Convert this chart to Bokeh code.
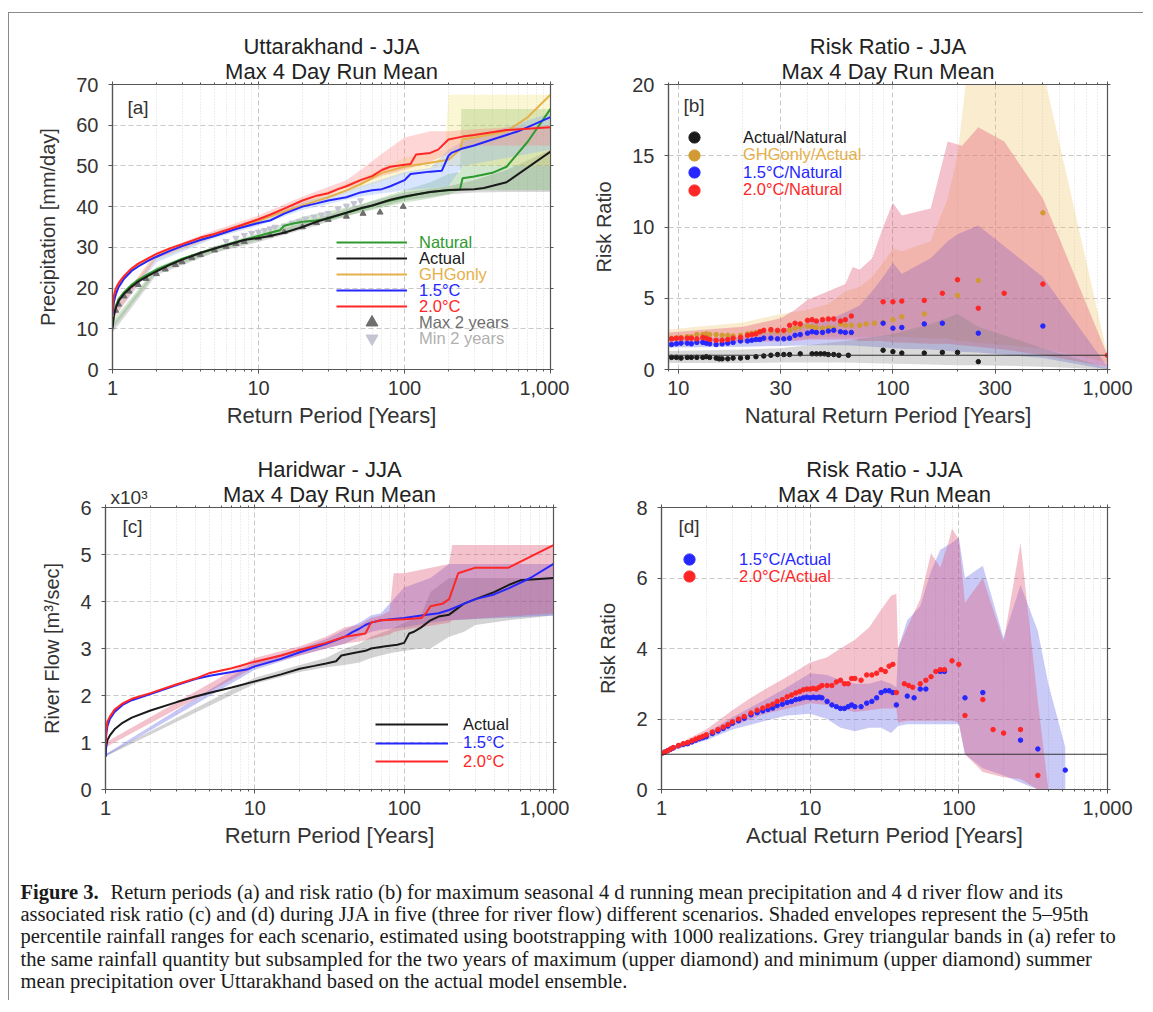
from bokeh.plotting import figure
from bokeh.models import (Range1d, FixedTicker, LogAxis, LinearAxis, NumeralTickFormatter,
                          CustomJSTickFormatter, Legend, LegendItem, Label, Span, Title)
from bokeh.layouts import column, row
from bokeh.embed import file_html
from bokeh.resources import INLINE

FONT = "Liberation Sans"

# ---------------- Panel (a) data: return levels (mm/day) ----------------
A_nat_x = [1, 1.02, 1.05, 1.1, 1.2, 1.35, 1.5, 1.75, 2, 2.5, 3, 4, 5, 6, 7, 8, 10, 12, 14, 15, 17, 20, 25, 30, 35, 40, 50, 60, 70, 80, 100, 120, 150, 200, 240, 250, 300, 400, 500, 700, 1000]
A_nat_y = [10.5, 13.5, 15.5, 17.3, 19.0, 20.8, 22.0, 23.4, 24.5, 26.0, 27.2, 28.7, 29.7, 30.6, 31.3, 31.9, 32.8, 33.6, 34.2, 35.3, 35.8, 36.3, 36.6, 37.0, 37.8, 38.5, 39.5, 40.2, 41.0, 41.5, 42.3, 43.0, 43.6, 44.0, 44.2, 47.0, 47.4, 48.3, 49.8, 56.0, 64.0]
A_act_x = [1, 1.02, 1.05, 1.1, 1.2, 1.35, 1.5, 1.75, 2, 2.5, 3, 4, 5, 6, 7, 8, 10, 12, 15, 20, 25, 30, 40, 50, 60, 70, 80, 100, 150, 200, 300, 350, 500, 1000]
A_act_y = [10.0, 13.0, 15.0, 16.8, 18.6, 20.3, 21.6, 23.0, 24.1, 25.8, 27.0, 28.6, 29.7, 30.5, 31.2, 31.8, 32.3, 32.8, 33.6, 35.0, 36.3, 37.2, 38.5, 39.6, 40.3, 41.0, 41.7, 42.5, 43.6, 44.1, 44.3, 44.6, 46.0, 53.5]
A_ghg_x = [1, 1.02, 1.05, 1.1, 1.2, 1.35, 1.5, 1.75, 2, 2.5, 3, 4, 5, 7, 10, 15, 20, 30, 40, 50, 70, 100, 150, 200, 240, 250, 300, 400, 500, 700, 1000]
A_ghg_y = [13.0, 16.5, 18.5, 20.5, 22.5, 24.3, 25.5, 26.8, 27.8, 29.3, 30.5, 32.0, 33.0, 34.8, 36.5, 38.8, 40.3, 42.3, 44.0, 45.5, 48.3, 49.8, 50.8, 51.5, 54.0, 56.5, 57.0, 57.8, 58.5, 62.0, 67.5]
A_15_x = [1, 1.02, 1.05, 1.1, 1.2, 1.35, 1.5, 1.75, 2, 2.5, 3, 4, 5, 7, 10, 12, 15, 20, 25, 30, 40, 50, 60, 70, 80, 100, 110, 150, 180, 200, 210, 250, 300, 400, 600, 1000]
A_15_y = [13.5, 16.5, 18.3, 20.2, 22.3, 24.2, 25.3, 26.7, 27.7, 29.2, 30.3, 31.8, 32.8, 34.5, 36.0, 36.6, 38.3, 40.0, 40.8, 41.5, 42.3, 43.5, 44.0, 44.3, 45.0, 46.5, 48.0, 48.6, 48.8, 52.5, 53.2, 54.3, 55.0, 56.5, 58.5, 62.0]
A_20_x = [1, 1.02, 1.05, 1.1, 1.2, 1.35, 1.5, 1.75, 2, 2.5, 3, 4, 5, 7, 10, 12, 15, 20, 25, 30, 35, 40, 50, 60, 70, 80, 100, 110, 120, 150, 170, 200, 250, 300, 500, 1000]
A_20_y = [14.0, 18.0, 19.8, 21.2, 23.0, 24.8, 26.0, 27.3, 28.4, 29.8, 30.8, 32.4, 33.3, 35.0, 36.9, 38.0, 39.5, 41.5, 42.7, 43.3, 44.3, 45.0, 46.5, 47.5, 49.0, 49.8, 50.3, 50.5, 52.8, 53.2, 54.0, 56.5, 57.2, 57.6, 58.8, 59.5]
A_max_x = [1.05, 1.1, 1.2, 1.3, 1.5, 1.7, 2, 2.3, 2.7, 3, 3.5, 4, 5, 6, 7, 8, 10, 12, 15, 20, 25, 30, 40, 52, 68, 98]
A_max_y = [14.5, 16.0, 18.0, 19.2, 20.8, 22.3, 23.5, 24.6, 25.7, 26.4, 27.4, 28.2, 29.3, 30.2, 30.9, 31.4, 32.3, 33.0, 33.8, 35.0, 36.0, 36.8, 37.6, 38.3, 38.6, 40.0]
A_min_x = [6, 7, 8, 9, 10, 11, 12, 13, 15, 17, 19, 21, 24, 27, 30, 35, 40, 45, 50]
A_min_y = [31.5, 32.3, 33.0, 33.5, 33.8, 34.2, 34.6, 35.0, 35.3, 36.0, 36.4, 37.0, 37.5, 38.0, 38.4, 39.5, 40.2, 40.8, 41.5]
# 5-95% envelopes
A_band_act_x = [1, 2, 5, 10, 20, 50, 100, 200, 300, 500, 1000]
A_band_act_lo = [9, 23.2, 28.7, 31.3, 34.3, 38.7, 41.5, 43, 43.5, 43.6, 43.6]
A_band_act_hi = [11, 24.8, 30.3, 32.8, 36, 40.5, 43.5, 45, 46.5, 49, 54]
A_band_nat_x = [1, 2, 5, 10, 20, 50, 100, 150, 200, 240, 245, 1000]
A_band_nat_lo = [10, 23.8, 28.8, 31.8, 35, 38.5, 41, 42, 43, 44, 44, 44]
A_band_nat_hi = [12, 25.2, 30.2, 33.5, 37.5, 40.5, 44, 46, 48, 48.5, 64, 64]
A_band_ghg_x = [1, 2, 5, 10, 20, 50, 100, 190, 200, 1000]
A_band_ghg_lo = [13, 26.8, 32.3, 35.8, 39.8, 44.5, 48, 50, 50, 50]
A_band_ghg_hi = [15, 28.3, 33.8, 37.3, 41.5, 47, 52, 54, 67.5, 67.5]
A_band_15_x = [1, 2, 5, 10, 20, 50, 100, 150, 200, 250, 1000]
A_band_15_lo = [12.5, 26.3, 32.3, 35.3, 39.2, 42.5, 44, 44.5, 45, 50, 54]
A_band_15_hi = [14.5, 27.8, 33.8, 36.8, 41, 45, 48.5, 49.5, 54, 56, 63]
A_band_20_x = [1, 2, 5, 10, 20, 40, 50, 70, 100, 150, 200, 300, 1000]
A_band_20_lo = [12, 27.3, 32.6, 36.3, 40.6, 44.5, 45.5, 47.5, 49, 51, 53, 55, 55]
A_band_20_hi = [14.5, 28.8, 34.2, 37.8, 42.5, 46.5, 49, 53, 57, 58.5, 58.5, 59, 60]

# ---------------- Panel (b) data: risk ratios vs natural return period ----------------
B_act_x = [9.3, 9.8, 10.3, 11, 11.5, 12.2, 13, 13.5, 14, 15, 15.5, 16, 17, 18, 19.5, 21, 23, 25, 27, 29, 31, 33, 37, 42, 44, 46, 48, 50, 53, 56, 62, 90, 100, 110, 140, 170, 200, 250]
B_act_y = [0.85, 0.85, 0.8, 0.85, 0.85, 0.85, 0.85, 0.9, 0.85, 0.8, 0.75, 0.75, 0.75, 0.8, 0.8, 0.85, 0.9, 0.95, 1.0, 1.05, 1.05, 1.05, 1.1, 1.1, 1.1, 1.1, 1.1, 1.05, 1.05, 1.0, 1.0, 1.35, 1.25, 1.15, 1.15, 1.2, 1.2, 0.55]
B_ghg_x = [9.3, 9.8, 10.3, 11, 11.5, 12.2, 13, 13.5, 14, 15, 16, 17, 18, 19.5, 21, 22, 23, 24, 25, 27, 29, 31, 33, 35, 37, 40, 42, 44, 47, 50, 53, 57, 60, 64, 70, 75, 82, 90, 100, 110, 140, 200, 250, 500]
B_ghg_y = [2.2, 2.2, 2.25, 2.3, 2.3, 2.45, 2.45, 2.5, 2.45, 2.45, 2.4, 2.4, 2.35, 2.4, 2.5, 2.55, 2.6, 2.65, 2.7, 2.7, 2.65, 2.7, 2.75, 2.9, 3.0, 3.05, 3.0, 2.95, 2.9, 2.95, 2.9, 3.2, 3.1, 3.1, 3.1, 3.2, 3.25, 3.3, 3.5, 3.7, 3.9, 5.2, 6.25, 11.0]
B_15_x = [9.3, 9.8, 10.3, 11, 11.5, 12.2, 13, 13.5, 14, 15, 16, 17, 18, 19.5, 21, 22, 23, 24, 25, 27, 29, 31, 33, 35, 37, 40, 42, 44, 47, 50, 53, 57, 60, 64, 90, 100, 110, 140, 170, 250, 500]
B_15_y = [1.75, 1.8, 1.85, 1.85, 1.8, 1.9, 1.9, 1.85, 1.8, 1.75, 1.8, 1.85, 1.9, 2.0, 2.0, 2.05, 2.1, 2.1, 2.2, 2.2, 2.15, 2.15, 2.2, 2.4, 2.45, 2.55, 2.65, 2.6, 2.6, 2.7, 2.75, 2.65, 2.6, 2.6, 3.25, 2.9, 2.95, 3.2, 3.25, 2.55, 3.05]
B_20_x = [9.3, 9.8, 10.3, 11, 11.5, 12.2, 13, 13.5, 14, 15, 16, 17, 18, 19.5, 21, 22, 23, 24, 25, 27, 29, 31, 33, 35, 37, 40, 42, 44, 47, 50, 53, 57, 60, 64, 90, 100, 110, 140, 170, 200, 250, 330, 500, 1000]
B_20_y = [2.15, 2.2, 2.2, 2.2, 2.2, 2.15, 2.25, 2.2, 2.1, 2.05, 2.05, 2.1, 2.2, 2.25, 2.4, 2.45, 2.5, 2.65, 2.75, 2.8, 2.75, 2.75, 3.1, 3.25, 3.2, 3.45, 3.5, 3.4, 3.5, 3.55, 3.55, 3.4, 3.5, 3.75, 4.75, 4.75, 4.8, 4.85, 5.35, 6.3, 4.3, 5.35, 6.0, 1.0]
B_band_ghg_x = [9, 20, 30, 40, 50, 60, 70, 80, 90, 100, 110, 150, 180, 200, 220, 240, 500, 1000]
B_band_ghg_hi = [2.8, 3.3, 3.9, 4.2, 4.6, 5.5, 5.8, 6.5, 7.5, 8.5, 8.3, 9.0, 12.0, 15.0, 20.5, 30, 21, 1.0]
B_band_ghg_lo = [2.0, 2.0, 2.1, 2.2, 2.3, 2.3, 2.3, 2.3, 2.4, 2.3, 2.3, 2.2, 2.2, 2.0, 2.0, 1.9, 1.5, 0.5]
B_band_20_x = [9, 20, 30, 35, 40, 50, 60, 65, 70, 80, 90, 100, 110, 150, 180, 210, 250, 330, 500, 1000]
B_band_20_hi = [2.6, 3.0, 3.6, 4.2, 4.9, 5.5, 6.0, 7.2, 7.0, 7.8, 10.0, 11.7, 10.8, 11.3, 16.0, 15.7, 17.0, 16.0, 12.0, 1.0]
B_band_20_lo = [1.9, 1.9, 2.0, 2.0, 2.1, 2.1, 2.1, 2.1, 2.0, 2.0, 2.0, 1.9, 1.9, 1.8, 1.8, 1.7, 1.6, 1.4, 1.0, 0.2]
B_band_15_x = [9, 20, 30, 40, 50, 60, 70, 80, 90, 100, 110, 150, 180, 200, 250, 500, 1000]
B_band_15_hi = [2.1, 2.3, 2.8, 3.3, 3.5, 4.0, 4.5, 5.5, 6.5, 7.5, 6.7, 7.8, 9.0, 9.5, 10.1, 6.5, 0.2]
B_band_15_lo = [1.55, 1.6, 1.65, 1.7, 1.7, 1.7, 1.65, 1.6, 1.55, 1.5, 1.45, 1.4, 1.3, 1.25, 1.2, 0.8, 0.0]
B_band_act_x = [9, 20, 30, 60, 100, 150, 200, 250, 500, 1000]
B_band_act_hi = [1.3, 1.4, 1.5, 2.0, 2.5, 3.2, 3.9, 3.0, 1.5, 0.1]
B_band_act_lo = [0.45, 0.45, 0.5, 0.5, 0.4, 0.35, 0.3, 0.3, 0.2, 0.0]

# ---------------- Panel (c) data: river flow (x10^3 m3/s) ----------------
C_act_x = [1, 1.01, 1.03, 1.07, 1.15, 1.3, 1.5, 2, 3, 4, 5, 7, 10, 15, 20, 25, 30, 35, 38, 45, 55, 60, 75, 90, 100, 108, 115, 130, 150, 170, 200, 250, 300, 400, 500, 600, 1000]
C_act_y = [0.7, 0.9, 1.05, 1.15, 1.28, 1.42, 1.53, 1.68, 1.86, 1.98, 2.06, 2.17, 2.3, 2.45, 2.57, 2.63, 2.68, 2.73, 2.85, 2.9, 2.95, 3.0, 3.05, 3.08, 3.12, 3.32, 3.35, 3.45, 3.6, 3.68, 3.72, 3.95, 4.05, 4.2, 4.35, 4.45, 4.5]
C_15_x = [1, 1.01, 1.03, 1.07, 1.15, 1.3, 1.5, 2, 3, 4, 5, 7, 9, 10, 15, 20, 30, 40, 45, 50, 55, 60, 70, 100, 130, 170, 200, 250, 300, 400, 500, 700, 1000]
C_15_y = [0.7, 1.15, 1.35, 1.5, 1.65, 1.8, 1.9, 2.03, 2.22, 2.35, 2.42, 2.5, 2.56, 2.62, 2.78, 2.92, 3.1, 3.25, 3.35, 3.42, 3.5, 3.55, 3.6, 3.65, 3.7, 3.75, 3.82, 3.95, 4.05, 4.15, 4.28, 4.5, 4.8]
C_20_x = [1, 1.01, 1.03, 1.07, 1.15, 1.3, 1.5, 2, 3, 4, 5, 7, 10, 15, 20, 30, 40, 50, 55, 60, 70, 100, 130, 140, 150, 180, 200, 230, 300, 500, 1000]
C_20_y = [0.95, 1.25, 1.45, 1.55, 1.7, 1.83, 1.93, 2.05, 2.24, 2.36, 2.48, 2.58, 2.72, 2.85, 2.97, 3.12, 3.25, 3.3, 3.32, 3.55, 3.6, 3.62, 3.65, 3.75, 3.9, 3.95, 4.05, 4.6, 4.72, 4.72, 5.2]
C_band_act_x = [1, 10, 20, 30, 40, 50, 60, 80, 100, 130, 150, 200, 250, 300, 500, 1000]
C_band_act_lo = [0.7, 2.25, 2.5, 2.6, 2.65, 2.7, 2.8, 2.9, 2.95, 3.0, 3.0, 3.25, 3.35, 3.5, 3.6, 3.7]
C_band_act_hi = [0.75, 2.38, 2.65, 2.8, 3.0, 3.1, 3.25, 3.4, 3.55, 3.7, 4.2, 4.5, 4.5, 4.5, 4.5, 4.5]
C_band_15_x = [1, 10, 20, 30, 40, 50, 60, 70, 100, 150, 200, 1000]
C_band_15_lo = [0.7, 2.55, 2.85, 3.0, 3.1, 3.25, 3.35, 3.4, 3.45, 3.55, 3.6, 3.7]
C_band_15_hi = [0.75, 2.72, 3.0, 3.2, 3.4, 3.55, 3.7, 3.75, 4.3, 4.5, 4.8, 4.8]
C_band_20_x = [1, 10, 20, 30, 40, 50, 60, 70, 80, 85, 100, 200, 210, 1000]
C_band_20_lo = [0.9, 2.6, 2.85, 3.0, 3.1, 3.15, 3.2, 3.25, 3.3, 3.35, 3.4, 3.55, 3.6, 3.75]
C_band_20_hi = [1.0, 2.8, 3.05, 3.25, 3.45, 3.5, 3.65, 3.7, 3.8, 4.6, 4.6, 4.8, 5.2, 5.2]

# ---------------- Panel (d) data: risk ratios vs actual return period ----------------
D_20_x = [1.0, 1.05, 1.1, 1.15, 1.2, 1.3, 1.4, 1.5, 1.6, 1.7, 1.8, 1.9, 2.0, 2.2, 2.4, 2.6, 2.8, 3.0, 3.3, 3.6, 4.0, 4.4, 4.8, 5.2, 5.6, 6.0, 6.5, 7.0, 7.5, 8.0, 8.5, 9.0, 9.5, 10, 10.5, 11, 11.5, 12, 13, 14, 15, 16, 17, 18, 19, 20, 22, 24, 26, 28, 30, 32, 34, 36, 38, 43, 46, 49, 55, 60, 65, 70, 75, 80, 90, 100, 110, 145, 170, 200, 260, 340]
D_20_y = [1.02, 1.06, 1.1, 1.15, 1.19, 1.25, 1.3, 1.33, 1.38, 1.43, 1.47, 1.51, 1.55, 1.63, 1.7, 1.77, 1.84, 1.92, 2.0, 2.07, 2.17, 2.25, 2.31, 2.37, 2.42, 2.5, 2.55, 2.63, 2.68, 2.74, 2.78, 2.83, 2.85, 2.85, 2.87, 2.85, 2.9, 2.95, 2.95, 2.95, 3.05, 3.1, 3.0, 3.0, 3.15, 3.15, 3.1, 3.25, 3.25, 3.3, 3.4, 3.35, 3.5, 3.55, 2.75, 3.0, 2.95, 2.9, 3.0, 3.1, 3.2, 3.35, 3.4, 3.4, 3.65, 3.55, 2.1, 2.55, 1.7, 1.6, 1.7, 0.4]
D_15_x = [1.0, 1.05, 1.1, 1.15, 1.2, 1.3, 1.4, 1.5, 1.6, 1.7, 1.8, 1.9, 2.0, 2.2, 2.4, 2.6, 2.8, 3.0, 3.3, 3.6, 4.0, 4.4, 4.8, 5.2, 5.6, 6.0, 6.5, 7.0, 7.5, 8.0, 8.5, 9.0, 9.5, 10, 10.5, 11, 11.5, 12, 13, 14, 15, 16, 17, 18, 19, 20, 22, 24, 26, 28, 30, 32, 34, 36, 38, 45, 50, 55, 60, 75, 80, 110, 145, 260, 340, 520]
D_15_y = [1.02, 1.06, 1.1, 1.14, 1.18, 1.24, 1.28, 1.3, 1.35, 1.4, 1.44, 1.47, 1.5, 1.59, 1.66, 1.73, 1.8, 1.88, 1.95, 2.02, 2.12, 2.18, 2.23, 2.27, 2.31, 2.38, 2.42, 2.47, 2.5, 2.55, 2.57, 2.6, 2.62, 2.6, 2.62, 2.6, 2.62, 2.6, 2.5, 2.4, 2.35, 2.3, 2.3, 2.35, 2.4, 2.35, 2.35, 2.45, 2.5, 2.6, 2.75, 2.8, 2.8, 2.75, 2.4, 2.65, 2.6, 2.85, 2.85, 3.35, 3.35, 2.6, 2.75, 1.4, 1.15, 0.55]
D_band_20_x = [1, 2, 3, 4, 5, 7, 10, 13, 16, 20, 25, 30, 35, 38, 39, 45, 55, 65, 75, 85, 90, 100, 110, 145, 200, 260, 340, 400]
D_band_20_hi = [1.05, 1.7, 2.25, 2.6, 2.85, 3.2, 3.6, 3.75, 4.0, 4.25, 4.6, 5.1, 5.5, 5.55, 4.0, 4.6, 5.4, 6.7, 6.3, 7.0, 7.4, 7.1, 5.3, 6.0, 4.2, 7.0, 2.5, 0.0]
D_band_20_lo = [1.0, 1.45, 1.8, 2.0, 2.15, 2.3, 2.45, 2.4, 2.3, 2.2, 2.25, 2.3, 2.3, 2.3, 1.9, 1.95, 1.95, 1.95, 1.95, 1.95, 1.95, 1.9, 1.0, 0.5, 0.35, 0.3, 0.0, 0.0]
D_band_15_x = [1, 2, 3, 5, 7, 10, 13, 16, 20, 25, 30, 35, 38, 39, 45, 55, 65, 75, 90, 100, 110, 145, 200, 260, 340, 400, 520]
D_band_15_hi = [1.05, 1.6, 2.05, 2.55, 2.9, 3.3, 3.25, 3.1, 3.0, 3.0, 3.1, 3.0, 2.9, 4.0, 4.8, 5.2, 6.2, 6.8, 7.0, 7.15, 6.0, 6.35, 4.3, 5.8, 4.5, 3.0, 1.2]
D_band_15_lo = [1.0, 1.4, 1.7, 1.95, 2.1, 2.15, 2.0, 1.75, 1.65, 1.75, 1.75, 1.6, 1.75, 1.8, 1.85, 1.85, 1.85, 1.85, 1.85, 1.85, 1.0, 0.6, 0.4, 0.2, 0.0, 0.0, 0.0]

# ---------------- tick definitions ----------------
X_MAJOR = [1, 10, 100, 1000]
X_MINOR = [2, 3, 4, 5, 6, 7, 8, 9, 20, 30, 40, 50, 60, 70, 80, 90, 200, 300, 400, 500, 600, 700, 800, 900]
XB_MAJOR = [10, 30, 100, 300, 1000]
XB_MINOR = [9, 20, 40, 50, 60, 70, 80, 90, 200, 400, 500, 600, 700, 800, 900]
YA_TICKS = [0, 10, 20, 30, 40, 50, 60, 70]
YB_TICKS = [0, 5, 10, 15, 20]
YC_TICKS = [0, 1, 2, 3, 4, 5, 6]
YD_TICKS = [0, 2, 4, 6, 8]

C_NAT = "#2e9a2e"
C_ACT = "#1a1a1a"
C_GHG = "#e6b04a"
C_GHG_DOT = "#d29a32"
C_15 = "#2626ff"
C_20 = "#ff2626"
BAND_BLUE = "#5050e0"
BAND_RED = "#e05070"
AXC = "#555555"
TXT = "#333333"


def make_panel(w, h, bl, br, bt, bb, xr, yr, xt, xm, yt, t1, t2, xl, yl):
    p = figure(width=w, height=h, x_axis_type="log", x_range=Range1d(*xr), y_range=Range1d(*yr),
               output_backend="svg", toolbar_location=None, title=None,
               min_border_left=bl, min_border_right=br, min_border_top=bt, min_border_bottom=bb)
    p.outline_line_color = AXC
    p.outline_line_width = 1.2
    xa = p.xaxis[0]
    xa.ticker = FixedTicker(ticks=xt, minor_ticks=xm)
    xa.formatter = NumeralTickFormatter(format="0,0")
    ya = p.yaxis[0]
    ya.ticker = FixedTicker(ticks=yt)
    for ax in (xa, ya):
        ax.axis_line_color = AXC
        ax.axis_line_width = 1.2
        ax.major_tick_line_color = AXC
        ax.minor_tick_line_color = AXC
        ax.major_tick_out = 4
        ax.major_tick_in = 0
        ax.minor_tick_out = 2
        ax.minor_tick_in = 0
        ax.major_label_text_font = FONT
        ax.major_label_text_font_size = "20px"
        ax.major_label_text_color = TXT
        ax.axis_label_text_font = FONT
        ax.axis_label_text_font_style = "normal"
        ax.axis_label_text_color = TXT
    xa.axis_label_text_font_size = "22px"
    ya.axis_label_text_font_size = "20px"
    xa.axis_label = xl
    ya.axis_label = yl
    xa.major_label_standoff = 7
    xa.axis_label_standoff = 5
    ya.major_label_standoff = 10
    ya.axis_label_standoff = 14
    # box ticks on top and right
    top = LogAxis(ticker=FixedTicker(ticks=xt, minor_ticks=xm),
                  formatter=CustomJSTickFormatter(code="return ''"))
    right = LinearAxis(ticker=FixedTicker(ticks=yt),
                       formatter=CustomJSTickFormatter(code="return ''"))
    for ax in (top, right):
        ax.axis_line_color = AXC
        ax.major_tick_line_color = AXC
        ax.minor_tick_line_color = AXC
        ax.major_tick_out = 3
        ax.major_tick_in = 0
        ax.minor_tick_out = 2
        ax.minor_tick_in = 0
        ax.major_label_standoff = 0
        ax.major_label_text_font_size = "1px"
    p.add_layout(top, "above")
    p.add_layout(right, "right")
    # grids
    p.xgrid.grid_line_color = "#c8c8c8"
    p.xgrid.grid_line_dash = "5 3"
    p.xgrid.minor_grid_line_color = "#dcdcdc"
    p.xgrid.minor_grid_line_dash = "1 2"
    p.ygrid.grid_line_color = "#c8c8c8"
    p.ygrid.grid_line_dash = "5 3"
    # two-line title (second line nearest the frame)
    for txt, so in ((t2, -5), (t1, 2)):
        p.add_layout(Title(text=txt, align="center", text_font=FONT, text_font_size="22px",
                           text_font_style="normal", text_color="#222222", standoff=so), "above")
    return p


def add_item(p, label, rend, x, y, color, gw, gh, standoff):
    leg = Legend(items=[LegendItem(label=label, renderers=[rend])], location=(x, y),
                 glyph_width=gw, glyph_height=gh, label_height=gh, label_standoff=standoff,
                 padding=0, margin=0, spacing=0, background_fill_alpha=0, border_line_alpha=0,
                 label_text_color=color, label_text_font_size="16.5px", label_text_font=FONT)
    p.add_layout(leg)


def panel_tag(p, text, x, y):
    p.add_layout(Label(x=x, y=y, x_units="screen", y_units="screen", text=text,
                       text_font=FONT, text_font_size="19px", text_color=TXT,
                       text_baseline="middle"))


BAND_A = 0.3

# ---------------- Panel (a) ----------------
pa = make_panel(560, 419, 103, 19, 71, 63, (1, 1000), (0, 70), X_MAJOR, X_MINOR, YA_TICKS,
                "Uttarakhand - JJA", "Max 4 Day Run Mean", "Return Period [Years]", "Precipitation [mm/day]")
pa.varea(x=A_band_act_x, y1=A_band_act_lo, y2=A_band_act_hi, fill_color="#808080", fill_alpha=0.3)
pa.varea(x=A_band_nat_x, y1=A_band_nat_lo, y2=A_band_nat_hi, fill_color="#5aaa50", fill_alpha=0.28)
pa.varea(x=A_band_ghg_x, y1=A_band_ghg_lo, y2=A_band_ghg_hi, fill_color="#f2e070", fill_alpha=BAND_A)
pa.varea(x=A_band_15_x, y1=A_band_15_lo, y2=A_band_15_hi, fill_color="#80a8ff", fill_alpha=BAND_A)
pa.varea(x=A_band_20_x, y1=A_band_20_lo, y2=A_band_20_hi, fill_color="#ff7878", fill_alpha=BAND_A)
r_max = pa.scatter(A_max_x, A_max_y, marker="triangle", size=6, color="#6e6e6e")
r_min = pa.scatter(A_min_x, A_min_y, marker="inverted_triangle", size=6, color="#c4c4d2")
r_nat = pa.line(A_nat_x, A_nat_y, line_color=C_NAT, line_width=2)
r_act = pa.line(A_act_x, A_act_y, line_color=C_ACT, line_width=2)
r_ghg = pa.line(A_ghg_x, A_ghg_y, line_color=C_GHG, line_width=2)
r_15 = pa.line(A_15_x, A_15_y, line_color=C_15, line_width=2)
r_20 = pa.line(A_20_x, A_20_y, line_color=C_20, line_width=2)
rows_a = [("Natural", r_nat, C_NAT), ("Actual", r_act, C_ACT), ("GHGonly", r_ghg, C_GHG),
          ("1.5°C", r_15, C_15), ("2.0°C", r_20, C_20)]
for i, (lab, rr, col) in enumerate(rows_a):
    add_item(pa, lab, rr, 224, 117 - 16 * i, col, 71, 20, 12)
add_item(pa, "Max 2 years", r_max, 224, 32, "#6e6e6e", 71, 30, 12)
add_item(pa, "Min 2 years", r_min, 224, 16, "#b0b0b0", 71, 30, 12)
panel_tag(pa, "[a]", 15, 262)

# ---------------- Panel (b) ----------------
pb = make_panel(574, 419, 99, 36, 71, 63, (9, 1000), (0, 20), XB_MAJOR, XB_MINOR, YB_TICKS,
                "Risk Ratio - JJA", "Max 4 Day Run Mean", "Natural Return Period [Years]", "Risk Ratio")
pb.varea(x=B_band_ghg_x, y1=B_band_ghg_lo, y2=B_band_ghg_hi, fill_color="#f0c060", fill_alpha=BAND_A)
pb.varea(x=B_band_15_x, y1=B_band_15_lo, y2=B_band_15_hi, fill_color=BAND_BLUE, fill_alpha=0.3)
pb.varea(x=B_band_20_x, y1=B_band_20_lo, y2=B_band_20_hi, fill_color=BAND_RED, fill_alpha=0.35)
pb.varea(x=B_band_act_x, y1=B_band_act_lo, y2=B_band_act_hi, fill_color="#808080", fill_alpha=0.3)
pb.add_layout(Span(location=1, dimension="width", line_color="#333333", line_width=1.2))
rb_act = pb.scatter(B_act_x, B_act_y, marker="circle", size=4.5, color=C_ACT)
rb_ghg = pb.scatter(B_ghg_x, B_ghg_y, marker="circle", size=4.5, color=C_GHG_DOT)
rb_15 = pb.scatter(B_15_x, B_15_y, marker="circle", size=4.5, color=C_15)
rb_20 = pb.scatter(B_20_x, B_20_y, marker="circle", size=4.5, color=C_20)
rows_b = [("Actual/Natural", rb_act, C_ACT), ("GHGonly/Actual", rb_ghg, C_GHG),
          ("1.5°C/Natural", rb_15, C_15), ("2.0°C/Natural", rb_20, C_20)]
for i, (lab, rr, tc) in enumerate(rows_b):
    add_item(pb, lab, rr, 11, 218 - 17.5 * i, tc, 30, 28, 34)
panel_tag(pb, "[b]", 15, 264)

# ---------------- Panel (c) ----------------
pc = make_panel(560, 418, 96, 16, 74, 60, (1, 1000), (0, 6), X_MAJOR, X_MINOR, YC_TICKS,
                "Haridwar - JJA", "Max 4 Day Run Mean", "Return Period [Years]", "River Flow [m³/sec]")
pc.varea(x=C_band_act_x, y1=C_band_act_lo, y2=C_band_act_hi, fill_color="#808080", fill_alpha=0.35)
pc.varea(x=C_band_15_x, y1=C_band_15_lo, y2=C_band_15_hi, fill_color=BAND_BLUE, fill_alpha=0.32)
pc.varea(x=C_band_20_x, y1=C_band_20_lo, y2=C_band_20_hi, fill_color=BAND_RED, fill_alpha=0.35)
rc_act = pc.line(C_act_x, C_act_y, line_color=C_ACT, line_width=2)
rc_15 = pc.line(C_15_x, C_15_y, line_color=C_15, line_width=2)
rc_20 = pc.line(C_20_x, C_20_y, line_color=C_20, line_width=2)
rows_c = [("Actual", rc_act, C_ACT), ("1.5°C", rc_15, C_15), ("2.0°C", rc_20, C_20)]
for i, (lab, rr, col) in enumerate(rows_c):
    add_item(pc, lab, rr, 270, 55 - 18.5 * i, col, 73, 20, 15)
panel_tag(pc, "[c]", 17, 263)
pc.add_layout(Label(x=5, y=-44, x_units="screen", y_units="screen", text="x10³",
                    text_font=FONT, text_font_size="19px", text_color=TXT,
                    text_baseline="middle"), "above")

# ---------------- Panel (d) ----------------
pd_ = make_panel(574, 418, 92, 36, 74, 60, (1, 1000), (0, 8), X_MAJOR, X_MINOR, YD_TICKS,
                 "Risk Ratio - JJA", "Max 4 Day Run Mean", "Actual Return Period [Years]", "Risk Ratio")
pd_.varea(x=D_band_15_x, y1=D_band_15_lo, y2=D_band_15_hi, fill_color=BAND_BLUE, fill_alpha=0.3)
pd_.varea(x=D_band_20_x, y1=D_band_20_lo, y2=D_band_20_hi, fill_color=BAND_RED, fill_alpha=0.35)
pd_.add_layout(Span(location=1, dimension="width", line_color="#333333", line_width=1.2))
rd_15 = pd_.scatter(D_15_x, D_15_y, marker="circle", size=4.5, color=C_15)
rd_20 = pd_.scatter(D_20_x, D_20_y, marker="circle", size=4.5, color=C_20)
rows_d = [("1.5°C/Actual", rd_15, C_15), ("2.0°C/Actual", rd_20, C_20)]
for i, (lab, rr, col) in enumerate(rows_d):
    add_item(pd_, lab, rr, 13, 216 - 17 * i, col, 30, 28, 35)
panel_tag(pd_, "[d]", 17, 263)

# ---------------- Caption ----------------
CAP_LINES = [
    "Return periods (a) and risk ratio (b) for maximum seasonal 4 d running mean precipitation and 4 d river flow and its",
    "associated risk ratio (c) and (d) during JJA in five (three for river flow) different scenarios. Shaded envelopes represent the 5\u201395th",
    "percentile rainfall ranges for each scenario, estimated using bootstrapping with 1000 realizations. Grey triangular bands in (a) refer to",
    "the same rainfall quantity but subsampled for the two years of maximum (upper diamond) and minimum (upper diamond) summer",
    "mean precipitation over Uttarakhand based on the actual model ensemble.",
]
cap = figure(width=1134, height=150, x_range=Range1d(0, 1), y_range=Range1d(0, 1),
             x_axis_type=None, y_axis_type=None, output_backend="svg", toolbar_location=None,
             min_border=0, title=None)
cap.outline_line_color = None
cap.grid.visible = False
CAP_FONT = "Liberation Serif"
CAP_FS = "20.5px"
cap.add_layout(Label(x=11, y=109, x_units="screen", y_units="screen", text="Figure 3.",
                     text_font=CAP_FONT, text_font_size=CAP_FS, text_font_style="bold",
                     text_color="#1a1a1a", text_baseline="middle"))
for i, line in enumerate(CAP_LINES):
    x0 = 101 if i == 0 else 11
    cap.add_layout(Label(x=x0, y=109 - 22.4 * i, x_units="screen", y_units="screen", text=line,
                         text_font=CAP_FONT, text_font_size=CAP_FS, text_color="#1a1a1a",
                         text_baseline="middle"))

layout = column(row(pa, pb), row(pc, pd_), cap,
                styles={"border-top": "1px solid #8a8a8a", "border-left": "1px solid #8a8a8a"},
                margin=(12, 0, 0, 8))

open("out.html", "w").write(file_html(layout, INLINE))
